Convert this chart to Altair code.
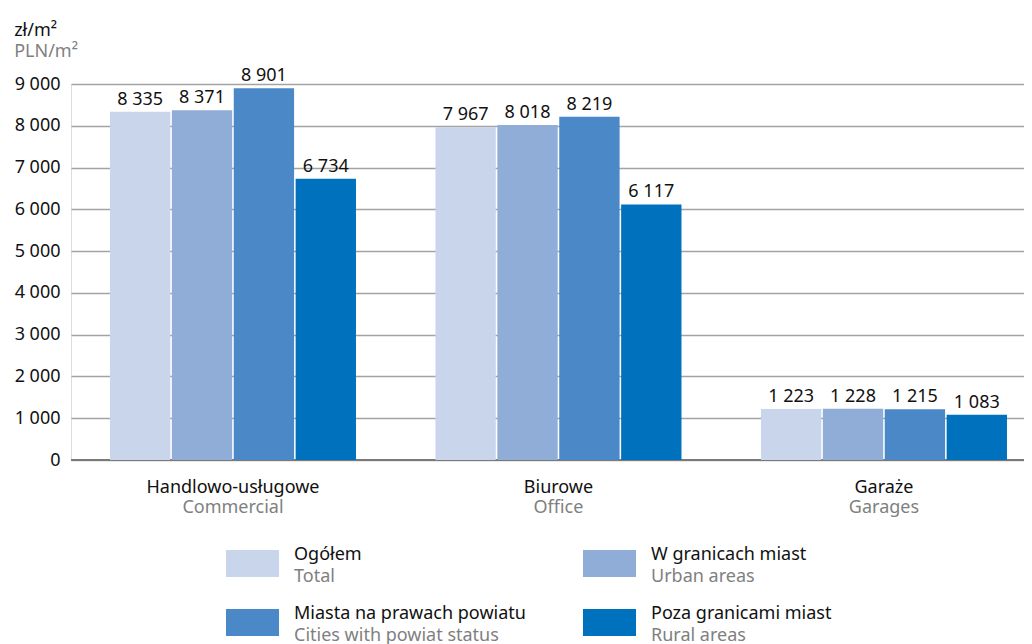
import altair as alt
import pandas as pd

# ---- data ----
categories_pl = ["Handlowo-usługowe", "Biurowe", "Garaże"]
categories_en = ["Commercial", "Office", "Garages"]
series_pl = ["Ogółem", "W granicach miast", "Miasta na prawach powiatu", "Poza granicami miast"]
series_en = ["Total", "Urban areas", "Cities with powiat status", "Rural areas"]
values_total = [8335, 7967, 1223]
values_urban = [8371, 8018, 1228]
values_cities = [8901, 8219, 1215]
values_rural = [6734, 6117, 1083]
y_ticks = [0, 1000, 2000, 3000, 4000, 5000, 6000, 7000, 8000, 9000]
colors = ["#c9d5ea", "#8fadd6", "#4a88c7", "#0071bd"]
legend_col = [0, 1, 0, 1]
legend_row = [0, 0, 1, 1]

series_values = [values_total, values_urban, values_cities, values_rural]
rows = []
for s, vals in zip(series_pl, series_values):
    for c, v in zip(categories_pl, vals):
        rows.append({"category": c, "series": s, "value": v})
df = pd.DataFrame(rows)
cat_df = pd.DataFrame({"category": categories_pl, "en": categories_en})
leg_df = pd.DataFrame({"series": series_pl, "en": series_en, "col": legend_col, "row": legend_row})

FONT = "Noto Sans"
FS = 18
GRAY = "#7f7f7f"

x_enc = alt.X("category:N", sort=categories_pl, axis=None,
              scale=alt.Scale(paddingInner=0.2442, paddingOuter=0.086, align=0.696))
xo_enc = alt.XOffset("series:N", sort=series_pl,
                     scale=alt.Scale(paddingInner=0.025, paddingOuter=0))
y_scale = alt.Scale(domain=[0, 9000], nice=False)
color_enc = alt.Color("series:N", scale=alt.Scale(domain=series_pl, range=colors), legend=None)

base = alt.Chart(df)

bars = base.mark_bar().encode(
    x=x_enc,
    xOffset=xo_enc,
    y=alt.Y("value:Q", scale=y_scale,
            axis=alt.Axis(values=y_ticks, title=None, domain=False, ticks=False, tickSize=0,
                          labelPadding=11, labelFontSize=FS, labelColor="#111111", labelFont=FONT,
                          labelExpr="replace(format(datum.value, ','), ',', ' ')",
                          grid=True, gridColor="#a3a3a3", gridWidth=1.5)),
    color=color_enc,
)

zero = alt.Chart(pd.DataFrame({"v": [0]})).mark_rule(color="#7a7a7a", strokeWidth=2).encode(
    y=alt.Y("v:Q", scale=y_scale)
)

bar_labels = base.transform_calculate(
    label="replace(format(datum.value, ','), ',', ' ')"
).mark_text(baseline="alphabetic", dy=-7, fontSize=FS, font=FONT, color="#111111").encode(
    x=x_enc,
    xOffset=xo_enc,
    y=alt.Y("value:Q", scale=y_scale),
    text="label:N",
)

cat_pl = alt.Chart(cat_df).mark_text(baseline="alphabetic", fontSize=FS, font=FONT, color="#111111").encode(
    x=x_enc, y=alt.value(409), text="category:N"
)
cat_en = alt.Chart(cat_df).mark_text(baseline="alphabetic", fontSize=FS, font=FONT, color=GRAY).encode(
    x=x_enc, y=alt.value(429), text="en:N"
)

main = alt.layer(zero, bars, bar_labels, cat_pl, cat_en)

# ---- custom legend (own scales) ----
lx = alt.X("col:O", axis=None, scale=alt.Scale(type="point", domain=[0, 1], range=[181.5, 538.5], padding=0))
ly = alt.Y("row:O", axis=None, scale=alt.Scale(type="point", domain=[0, 1], range=[479.5, 538.5], padding=0))
leg_base = alt.Chart(leg_df)
swatch = leg_base.mark_point(
    shape="M-1,-0.509L1,-0.509L1,0.509L-1,0.509Z", size=2809, filled=True, opacity=1
).encode(x=lx, y=ly, color=color_enc)
leg_pl = leg_base.mark_text(align="left", baseline="alphabetic", dx=41.5, dy=-3.5,
                            fontSize=FS, font=FONT, color="#111111").encode(x=lx, y=ly, text="series:N")
leg_en = leg_base.mark_text(align="left", baseline="alphabetic", dx=41.5, dy=18,
                            fontSize=FS, font=FONT, color=GRAY).encode(x=lx, y=ly, text="en:N")
legend = alt.layer(swatch, leg_pl, leg_en)

chart = alt.layer(main, legend).resolve_scale(x="independent", y="independent").properties(
    width=953,
    height=376,
    autosize=alt.AutoSizeParams(type="none"),
    padding={"left": 63, "top": 76, "right": 0, "bottom": 190},
    title=alt.TitleParams(
        text="zł/m²", subtitle="PLN/m²", anchor="start", frame="bounds", orient="top",
        fontSize=FS, subtitleFontSize=FS, font=FONT, subtitleFont=FONT, fontWeight="normal",
        color="#111111", subtitleColor=GRAY, subtitlePadding=3, offset=6,
    ),
).configure_view(stroke=None).configure(font=FONT)

chart.save("out.html", embed_options={"renderer": "svg", "actions": False})
